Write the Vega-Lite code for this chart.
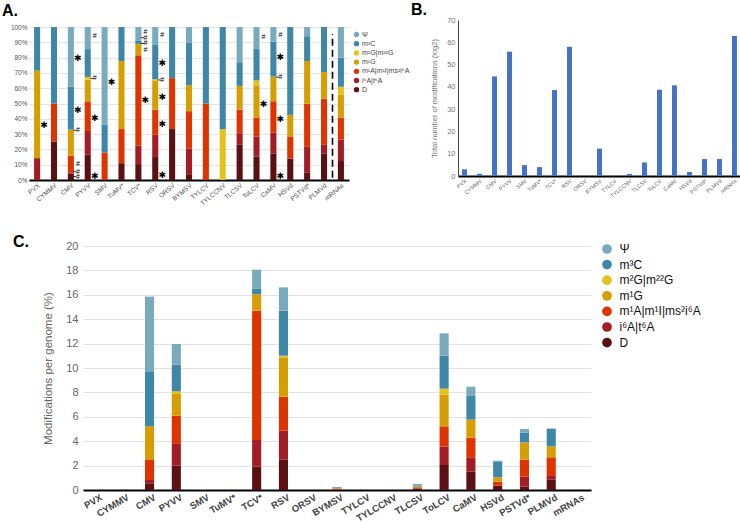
{
  "$schema": "https://vega.github.io/schema/vega-lite/v6.json",
  "padding": {"left": 2, "top": 2, "right": 0, "bottom": 0},
  "config": {"view": {"stroke": null}, "font": "Liberation Sans"},
  "datasets": {
    "mods": [{"k":1,"m":"D"},{"k":2,"m":"i⁶A|t⁶A"},{"k":3,"m":"m¹A|m¹I|ms²i⁶A"},{"k":4,"m":"m¹G"},{"k":5,"m":"m²G|m²²G"},{"k":6,"m":"m³C"},{"k":7,"m":"Ψ"}],
    "pct": [
      {"v":"PVX","k":2,"p":14.3},{"v":"PVX","k":4,"p":57.2},{"v":"PVX","k":6,"p":28.5},
      {"v":"CYMMV","k":1,"p":25},{"v":"CYMMV","k":3,"p":25},{"v":"CYMMV","k":6,"p":50},
      {"v":"CMV","k":1,"p":4.1},{"v":"CMV","k":2,"p":1.0},{"v":"CMV","k":3,"p":10.8},{"v":"CMV","k":4,"p":17.1},{"v":"CMV","k":6,"p":28},{"v":"CMV","k":7,"p":39},
      {"v":"PYVV","k":1,"p":16.7},{"v":"PYVV","k":2,"p":15.3},{"v":"PYVV","k":3,"p":19},{"v":"PYVV","k":4,"p":14.6},{"v":"PYVV","k":5,"p":1.8},{"v":"PYVV","k":6,"p":18.2},{"v":"PYVV","k":7,"p":14.4},
      {"v":"SMV","k":3,"p":18},{"v":"SMV","k":6,"p":18.3},{"v":"SMV","k":7,"p":63.7},
      {"v":"TuMV*","k":1,"p":11},{"v":"TuMV*","k":3,"p":22.3},{"v":"TuMV*","k":4,"p":44.5},{"v":"TuMV*","k":6,"p":22.2},
      {"v":"TCV*","k":1,"p":10.4},{"v":"TCV*","k":2,"p":12.2},{"v":"TCV*","k":3,"p":58.9},{"v":"TCV*","k":4,"p":7.5},{"v":"TCV*","k":6,"p":2.3},{"v":"TCV*","k":7,"p":8.7},
      {"v":"RSV","k":1,"p":15},{"v":"RSV","k":2,"p":14.6},{"v":"RSV","k":3,"p":16.4},{"v":"RSV","k":4,"p":18.8},{"v":"RSV","k":5,"p":1.1},{"v":"RSV","k":6,"p":22.4},{"v":"RSV","k":7,"p":11.7},
      {"v":"ORSV","k":1,"p":33.3},{"v":"ORSV","k":3,"p":33.3},{"v":"ORSV","k":6,"p":33.4},
      {"v":"BYMSV","k":1,"p":3.3},{"v":"BYMSV","k":2,"p":17.3},{"v":"BYMSV","k":3,"p":24.4},{"v":"BYMSV","k":4,"p":17},{"v":"BYMSV","k":6,"p":27.6},{"v":"BYMSV","k":7,"p":10.4},
      {"v":"TYLCV","k":3,"p":50},{"v":"TYLCV","k":6,"p":50},
      {"v":"TYLCCNV","k":5,"p":33.3},{"v":"TYLCCNV","k":6,"p":66.7},
      {"v":"TLCSV","k":1,"p":23},{"v":"TLCSV","k":2,"p":7.6},{"v":"TLCSV","k":3,"p":15.4},{"v":"TLCSV","k":4,"p":15.5},{"v":"TLCSV","k":6,"p":15.5},{"v":"TLCSV","k":7,"p":23},
      {"v":"ToLCV","k":1,"p":15.4},{"v":"ToLCV","k":2,"p":13.1},{"v":"ToLCV","k":3,"p":12.1},{"v":"ToLCV","k":4,"p":21.1},{"v":"ToLCV","k":5,"p":3.4},{"v":"ToLCV","k":6,"p":20.5},{"v":"ToLCV","k":7,"p":14.4},
      {"v":"CaMV","k":1,"p":17.4},{"v":"CaMV","k":2,"p":13.6},{"v":"CaMV","k":3,"p":20.5},{"v":"CaMV","k":4,"p":16.1},{"v":"CaMV","k":6,"p":22.8},{"v":"CaMV","k":7,"p":9.6},
      {"v":"HSVd","k":1,"p":14},{"v":"HSVd","k":3,"p":14.5},{"v":"HSVd","k":4,"p":14.1},{"v":"HSVd","k":6,"p":57.4},
      {"v":"PSTVd*","k":1,"p":5},{"v":"PSTVd*","k":2,"p":16.7},{"v":"PSTVd*","k":3,"p":28.1},{"v":"PSTVd*","k":4,"p":28},{"v":"PSTVd*","k":6,"p":16.2},{"v":"PSTVd*","k":7,"p":6},
      {"v":"PLMVd","k":1,"p":17.4},{"v":"PLMVd","k":2,"p":5.6},{"v":"PLMVd","k":3,"p":30.2},{"v":"PLMVd","k":4,"p":17.4},{"v":"PLMVd","k":6,"p":29.4},
      {"v":"mRNAs","k":1,"p":12.4},{"v":"mRNAs","k":2,"p":14.1},{"v":"mRNAs","k":3,"p":14.1},{"v":"mRNAs","k":4,"p":15.3},{"v":"mRNAs","k":5,"p":5.1},{"v":"mRNAs","k":6,"p":19},{"v":"mRNAs","k":7,"p":20}
    ],
    "marks": [
      {"v":"PVX","p":36,"s":"✱","l":0},
      {"v":"CMV","p":80,"s":"✱","l":0},{"v":"CMV","p":46,"s":"✱","l":0},{"v":"CMV","p":32.6,"s":"#","l":1},{"v":"CMV","p":10.5,"s":"#","l":0},{"v":"CMV","p":5.4,"s":"#","l":1},{"v":"CMV","p":2.2,"s":"#","l":1},
      {"v":"PYVV","p":94,"s":"#","l":0},{"v":"PYVV","p":66.5,"s":"#","l":1},{"v":"PYVV","p":40.7,"s":"✱","l":0},{"v":"PYVV","p":2.4,"s":"✱","l":0},
      {"v":"SMV","p":64,"s":"✱","l":0},
      {"v":"TCV*","p":97,"s":"#","l":0},{"v":"TCV*","p":93,"s":"#","l":1},{"v":"TCV*","p":89.3,"s":"#","l":1},{"v":"TCV*","p":85,"s":"#","l":0},{"v":"TCV*","p":52.3,"s":"✱","l":0},
      {"v":"RSV","p":94.5,"s":"#","l":0},{"v":"RSV","p":76.5,"s":"✱","l":0},{"v":"RSV","p":65.4,"s":"#","l":1},{"v":"RSV","p":54.5,"s":"✱","l":0},{"v":"RSV","p":36.8,"s":"✱","l":0},{"v":"RSV","p":3.3,"s":"✱","l":0},
      {"v":"ToLCV","p":93.7,"s":"#","l":0},{"v":"ToLCV","p":49.9,"s":"✱","l":0},
      {"v":"CaMV","p":95,"s":"#","l":0},{"v":"CaMV","p":80.4,"s":"✱","l":0},{"v":"CaMV","p":67.3,"s":"#","l":1},{"v":"CaMV","p":39.7,"s":"✱","l":0},{"v":"CaMV","p":2.6,"s":"✱","l":0}
    ],
    "dash": [{"v":"mRNAs","p":1.5,"p2":95.5}],
    "tot": [
      {"v":"PVX","n":3},{"v":"CYMMV","n":1},{"v":"CMV","n":44.7},{"v":"PYVV","n":55.8},{"v":"SMV","n":4.9},{"v":"TuMV*","n":4},{"v":"TCV*","n":38.6},{"v":"RSV","n":58},{"v":"ORSV","n":0},{"v":"BYMSV","n":12.3},{"v":"TYLCV","n":0},{"v":"TYLCCNV","n":0.9},{"v":"TLCSV","n":6.1},{"v":"ToLCV","n":38.7},{"v":"CaMV","n":40.7},{"v":"HSVd","n":1.8},{"v":"PSTVd*","n":7.6},{"v":"PLMVd","n":7.6},{"v":"mRNAs","n":62.8}
    ],
    "gen": [
      {"v":"PVX","k":2,"g":0.01},{"v":"PVX","k":4,"g":0.04},{"v":"PVX","k":6,"g":0.02},
      {"v":"CYMMV","k":1,"g":0.01},{"v":"CYMMV","k":3,"g":0.01},{"v":"CYMMV","k":6,"g":0.02},
      {"v":"CMV","k":1,"g":0.55},{"v":"CMV","k":2,"g":0.27},{"v":"CMV","k":3,"g":1.69},{"v":"CMV","k":4,"g":2.71},{"v":"CMV","k":6,"g":4.51},{"v":"CMV","k":7,"g":6.12},
      {"v":"PYVV","k":1,"g":1.99},{"v":"PYVV","k":2,"g":1.84},{"v":"PYVV","k":3,"g":2.26},{"v":"PYVV","k":4,"g":1.78},{"v":"PYVV","k":5,"g":0.22},{"v":"PYVV","k":6,"g":2.18},{"v":"PYVV","k":7,"g":1.70},
      {"v":"SMV","k":3,"g":0.01},{"v":"SMV","k":6,"g":0.01},{"v":"SMV","k":7,"g":0.04},
      {"v":"TuMV*","k":1,"g":0.01},{"v":"TuMV*","k":3,"g":0.01},{"v":"TuMV*","k":4,"g":0.03},{"v":"TuMV*","k":6,"g":0.01},
      {"v":"TCV*","k":1,"g":1.91},{"v":"TCV*","k":2,"g":2.19},{"v":"TCV*","k":3,"g":10.6},{"v":"TCV*","k":4,"g":1.34},{"v":"TCV*","k":6,"g":0.44},{"v":"TCV*","k":7,"g":1.58},
      {"v":"RSV","k":1,"g":2.51},{"v":"RSV","k":2,"g":2.35},{"v":"RSV","k":3,"g":2.79},{"v":"RSV","k":4,"g":3.22},{"v":"RSV","k":5,"g":0.14},{"v":"RSV","k":6,"g":3.69},{"v":"RSV","k":7,"g":1.91},
      {"v":"BYMSV","k":1,"g":0.01},{"v":"BYMSV","k":2,"g":0.04},{"v":"BYMSV","k":3,"g":0.06},{"v":"BYMSV","k":4,"g":0.04},{"v":"BYMSV","k":6,"g":0.07},{"v":"BYMSV","k":7,"g":0.03},
      {"v":"TYLCV","k":3,"g":0.01},{"v":"TYLCV","k":6,"g":0.01},
      {"v":"TYLCCNV","k":5,"g":0.01},{"v":"TYLCCNV","k":6,"g":0.03},
      {"v":"TLCSV","k":1,"g":0.11},{"v":"TLCSV","k":2,"g":0.04},{"v":"TLCSV","k":3,"g":0.07},{"v":"TLCSV","k":4,"g":0.07},{"v":"TLCSV","k":6,"g":0.09},{"v":"TLCSV","k":7,"g":0.11},
      {"v":"ToLCV","k":1,"g":2.05},{"v":"ToLCV","k":2,"g":1.5},{"v":"ToLCV","k":3,"g":1.67},{"v":"ToLCV","k":4,"g":2.59},{"v":"ToLCV","k":5,"g":0.5},{"v":"ToLCV","k":6,"g":2.7},{"v":"ToLCV","k":7,"g":1.83},
      {"v":"CaMV","k":1,"g":1.5},{"v":"CaMV","k":2,"g":1.18},{"v":"CaMV","k":3,"g":1.61},{"v":"CaMV","k":4,"g":1.48},{"v":"CaMV","k":6,"g":1.93},{"v":"CaMV","k":7,"g":0.77},
      {"v":"HSVd","k":1,"g":0.36},{"v":"HSVd","k":3,"g":0.32},{"v":"HSVd","k":4,"g":0.36},{"v":"HSVd","k":6,"g":1.31},{"v":"HSVd","k":7,"g":0.05},
      {"v":"PSTVd*","k":1,"g":0.27},{"v":"PSTVd*","k":2,"g":0.82},{"v":"PSTVd*","k":3,"g":1.41},{"v":"PSTVd*","k":4,"g":1.4},{"v":"PSTVd*","k":6,"g":0.8},{"v":"PSTVd*","k":7,"g":0.3},
      {"v":"PLMVd","k":1,"g":0.87},{"v":"PLMVd","k":2,"g":0.28},{"v":"PLMVd","k":3,"g":1.53},{"v":"PLMVd","k":4,"g":0.9},{"v":"PLMVd","k":6,"g":1.45},
      {"v":"mRNAs","k":1,"g":0.01},{"v":"mRNAs","k":3,"g":0.01},{"v":"mRNAs","k":6,"g":0.02},{"v":"mRNAs","k":7,"g":0.01}
    ]
  },
  "bounds": "flush",
  "spacing": 226,
  "resolve": {"scale": {"color": "independent"}, "legend": {"color": "independent"}},
  "vconcat": [
    {
      "bounds": "flush",
      "spacing": 109,
      "resolve": {"scale": {"color": "independent"}, "legend": {"color": "independent"}},
      "hconcat": [
        {
          "width": 320, "height": 160,
          "title": {"text": "A.", "anchor": "start", "frame": "group", "dx": -27, "offset": 1.5, "fontSize": 16, "fontWeight": "bold", "color": "#000"},
          "encoding": {
            "x": {"field": "v", "type": "nominal", "scale": {"domain": ["PVX","CYMMV","CMV","PYVV","SMV","TuMV*","TCV*","RSV","ORSV","BYMSV","TYLCV","TYLCCNV","TLCSV","ToLCV","CaMV","HSVd","PSTVd*","PLMVd","mRNAs"], "paddingInner": 0.64, "paddingOuter": 0.3},
              "axis": {"title": null, "labelAngle": -40, "labelFontSize": 6.5, "labelColor": "#555", "ticks": false, "domainColor": "#000", "domainWidth": 2, "labelPadding": 2}},
            "y": {"field": "p", "type": "quantitative", "scale": {"domain": [0, 104.6], "nice": false},
              "axis": {"title": null, "values": [0,10,20,30,40,50,60,70,80,90,100], "labelExpr": "datum.value + '%'", "labelOverlap": false, "labelFontSize": 6.5, "labelColor": "#555", "domain": false, "ticks": false, "grid": true, "gridColor": "#e4e4e4", "labelPadding": 2}}
          },
          "layer": [
            {
              "data": {"name": "pct"},
              "transform": [{"lookup": "k", "from": {"data": {"name": "mods"}, "key": "k", "fields": ["m"]}}],
              "mark": {"type": "bar"},
              "encoding": {
                "color": {"field": "m", "type": "nominal",
                  "scale": {"domain": ["Ψ","m³C","m²G|m²²G","m¹G","m¹A|m¹I|ms²i⁶A","i⁶A|t⁶A","D"], "range": ["#79abbc","#3e87a6","#e3c21e","#d69e02","#dd3400","#a21d26","#5b1013"]},
                  "legend": {"title": null, "orient": "none", "legendX": 324, "legendY": 11, "padding": 0, "symbolType": "circle", "symbolSize": 28, "labelFontSize": 7, "labelColor": "#444", "rowPadding": 1.2, "labelOffset": 2}},
                "order": {"field": "k", "type": "quantitative"}
              }
            },
            {
              "data": {"name": "marks"},
              "transform": [{"filter": "datum.l == 1"}],
              "mark": {"type": "tick", "orient": "horizontal", "size": 3, "thickness": 0.8, "xOffset": 4, "color": "#000", "opacity": 1}
            },
            {
              "data": {"name": "marks"},
              "transform": [{"filter": "datum.s == '#'"}],
              "mark": {"type": "text", "dx": 7, "baseline": "middle", "fontSize": 7, "color": "#000"},
              "encoding": {"text": {"field": "s"}}
            },
            {
              "data": {"name": "marks"},
              "transform": [{"filter": "datum.s != '#'"}],
              "mark": {"type": "text", "dx": 7, "baseline": "middle", "fontSize": 9, "color": "#000", "font": "DejaVu Sans"},
              "encoding": {"text": {"field": "s"}}
            },
            {
              "data": {"name": "dash"},
              "mark": {"type": "rule", "xOffset": -8.4, "strokeDash": [7, 4], "strokeWidth": 1.6, "color": "#000"},
              "encoding": {"y2": {"field": "p2"}}
            }
          ]
        },
        {
          "width": 283, "height": 156,
          "title": {"text": "B.", "anchor": "start", "frame": "group", "dx": -47, "offset": -2, "fontSize": 16, "fontWeight": "bold", "color": "#000"},
          "data": {"name": "tot"},
          "mark": {"type": "bar", "color": "#4472c4"},
          "encoding": {
            "x": {"field": "v", "type": "nominal", "scale": {"domain": ["PVX","CYMMV","CMV","PYVV","SMV","TuMV*","TCV*","RSV","ORSV","BYMSV","TYLCV","TYLCCNV","TLCSV","ToLCV","CaMV","HSVd","PSTVd*","PLMVd","mRNAs"], "paddingInner": 0.67, "paddingOuter": 0.27},
              "axis": {"title": null, "labelAngle": -40, "labelFontSize": 5.5, "labelColor": "#666", "ticks": false, "domainColor": "#000", "domainWidth": 2, "labelPadding": 2}},
            "y": {"field": "n", "type": "quantitative", "scale": {"domain": [0, 70], "nice": false},
              "axis": {"title": "Total number of modifications (log2)", "titleFontSize": 7.5, "titleFontWeight": "normal", "titleColor": "#777", "titlePadding": 8, "values": [0,10,20,30,40,50,60,70], "labelFontSize": 7.5, "labelColor": "#777", "domain": true, "domainColor": "#444", "domainWidth": 1, "ticks": false, "grid": false, "labelPadding": 3}}
          }
        }
      ]
    },
    {
      "bounds": "flush",
      "spacing": 53,
      "resolve": {"scale": {"color": "independent"}, "legend": {"color": "independent"}},
      "hconcat": [
        {
          "width": 1, "height": 1,
          "data": {"values": [{"a": 1}]},
          "mark": {"type": "text"},
          "encoding": {"text": {"value": ""}}
        },
        {
          "width": 508, "height": 244,
          "title": {"text": "C.", "anchor": "start", "frame": "group", "dx": -70, "offset": -10, "fontSize": 16, "fontWeight": "bold", "color": "#000"},
          "data": {"name": "gen"},
          "transform": [{"lookup": "k", "from": {"data": {"name": "mods"}, "key": "k", "fields": ["m"]}}],
          "mark": {"type": "bar"},
          "encoding": {
            "x": {"field": "v", "type": "nominal", "scale": {"domain": ["PVX","CYMMV","CMV","PYVV","SMV","TuMV*","TCV*","RSV","ORSV","BYMSV","TYLCV","TYLCCNV","TLCSV","ToLCV","CaMV","HSVd","PSTVd*","PLMVd","mRNAs"], "paddingInner": 0.66, "paddingOuter": 0.315},
              "axis": {"title": null, "labelAngle": -30, "labelFontSize": 9.5, "labelFontWeight": "bold", "labelColor": "#444", "ticks": false, "domainColor": "#000", "domainWidth": 2, "labelPadding": 2, "labelOffset": 3}},
            "y": {"field": "g", "type": "quantitative", "stack": "zero", "scale": {"domain": [0, 20], "nice": false},
              "axis": {"title": "Modifications per genome (%)", "titleFontSize": 11.5, "titleFontWeight": "normal", "titleColor": "#666", "titlePadding": 12, "values": [0,2,4,6,8,10,12,14,16,18,20], "labelFontSize": 11, "labelColor": "#666", "domain": false, "ticks": false, "grid": true, "gridColor": "#e2e2e2", "labelPadding": 5}},
            "color": {"field": "m", "type": "nominal",
              "scale": {"domain": ["Ψ","m³C","m²G|m²²G","m¹G","m¹A|m¹I|ms²i⁶A","i⁶A|t⁶A","D"], "range": ["#79abbc","#3e87a6","#e3c21e","#d69e02","#dd3400","#a21d26","#5b1013"]},
              "legend": {"title": null, "orient": "none", "legendX": 518, "legendY": -3, "padding": 0, "symbolType": "circle", "symbolSize": 95, "labelFontSize": 12, "labelColor": "#111", "rowPadding": 3.6, "labelOffset": 6.5}},
            "order": {"field": "k", "type": "quantitative"}
          }
        }
      ]
    }
  ]
}
